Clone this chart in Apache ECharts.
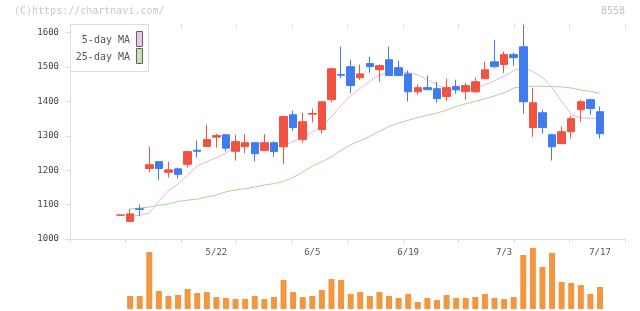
<!DOCTYPE html>
<html>
<head>
<meta charset="utf-8">
<script src="https://cdn.jsdelivr.net/npm/echarts@6/dist/echarts.min.js"></script>
<style>
  html, body { margin: 0; padding: 0; background: #fff; }
  #main { width: 640px; height: 311px; }
</style>
</head>
<body>
<div id="main"></div>
<script>
// 日付 (2025/5/8 - 7/17)
var dates = ['5/8','5/9','5/12','5/13','5/14','5/15','5/16','5/19','5/20','5/21',
  '5/22','5/23','5/26','5/27','5/28','5/29','5/30','6/2','6/3','6/4',
  '6/5','6/6','6/9','6/10','6/11','6/12','6/13','6/16','6/17','6/18',
  '6/19','6/20','6/23','6/24','6/25','6/26','6/27','6/30','7/1','7/2',
  '7/3','7/4','7/7','7/8','7/9','7/10','7/11','7/14','7/15','7/16','7/17'];

var opens  = [1069,1051,1088,1205,1225,1194,1204,1217,1258,1269,1296,1303,1255,1268,1280,1257,1280,1268,1361,1289,
  1363,1318,1405,1478,1501,1469,1510,1492,1521,1498,1480,1428,1440,1437,1414,1443,1428,1428,1466,1515,
  1507,1536,1559,1324,1367,1303,1277,1312,1376,1405,1370];
var closes = [1070,1073,1086,1216,1205,1201,1188,1254,1255,1289,1301,1264,1283,1280,1248,1280,1254,1356,1324,1341,
  1365,1399,1495,1476,1446,1480,1501,1504,1475,1475,1428,1440,1434,1408,1440,1434,1446,1457,1492,1501,
  1536,1527,1399,1396,1324,1268,1312,1350,1399,1379,1306];
var lows   = [1069,1051,1066,1194,1172,1179,1176,1208,1237,1269,1266,1255,1228,1249,1226,1257,1239,1217,1314,1281,
  1339,1307,1397,1468,1423,1463,1483,1457,1475,1475,1399,1420,1434,1396,1402,1422,1405,1425,1466,1498,
  1483,1504,1364,1297,1306,1228,1277,1292,1341,1361,1292];
var highs  = [1070,1087,1100,1268,1225,1225,1207,1257,1286,1332,1306,1303,1303,1305,1280,1305,1284,1358,1373,1367,
  1379,1400,1498,1559,1521,1507,1530,1507,1559,1518,1490,1449,1475,1457,1466,1463,1454,1469,1515,1579,
  1545,1542,1623,1440,1376,1306,1327,1358,1405,1408,1385];

var ma5  = [null,1066,1069,1075,1110,1140,1160,1185,1213,1225,1236,1250,1266,1276,1281,1276,1271,1270,1284,1294,
  1311,1328,1356,1388,1416,1438,1458,1477,1484,1486,1484,1477,1463,1448,1437,1432,1434,1437,1448,1460,
  1473,1490,1499,1487,1470,1440,1400,1362,1352,1351,1350];
var ma25 = [null,1087,1090,1093,1098,1102,1109,1113,1116,1122,1128,1137,1143,1146,1151,1157,1161,1167,1179,1194,
  1212,1225,1239,1258,1274,1286,1298,1313,1327,1337,1345,1353,1360,1366,1375,1385,1393,1400,1408,1416,
  1425,1439,1443,1444,1444,1443,1442,1439,1433,1429,1424];

// 出来高
var volumes = [null,39,39,171,54,39,42,60,48,51,36,33,30,30,39,30,36,87,51,36,
  39,57,90,87,45,51,39,51,39,33,45,21,33,27,42,33,33,36,45,33,
  30,36,162,183,126,168,81,78,72,45,66];

var priceTicks = [1000,1100,1200,1300,1400,1500,1600];

var candles = dates.map(function(d, i) {
  return [opens[i], closes[i], lows[i], highs[i]];
});

var mono = 'DejaVu Sans Mono';
var axisGray = '#dddddd';

var myChart = echarts.init(document.getElementById('main'));
var option = {
  animation: false,
  backgroundColor: '#fff',
  grid: [
    { left: 70, right: 15, top: 24, height: 215 },
    { left: 115.7, right: 35.2, top: 24, height: 215 },
    { left: 115.7, right: 35.2, top: 248, bottom: 2 }
  ],
  xAxis: [
    { gridIndex: 0, type: 'value', min: 0, max: 10, interval: 1,
      axisLine: { show: true, lineStyle: { color: axisGray } },
      axisTick: { show: true, length: 4, lineStyle: { color: axisGray } },
      axisLabel: { show: false }, splitLine: { show: false } },
    { gridIndex: 0, type: 'value', min: 0, max: 10, interval: 1,
      axisLine: { show: false },
      axisTick: { show: true, inside: true, length: 4, lineStyle: { color: axisGray } },
      axisLabel: { show: false }, splitLine: { show: false } },
    { gridIndex: 1, type: 'category', data: dates, boundaryGap: true,
      axisLine: { show: false }, axisTick: { show: false }, splitLine: { show: false },
      axisLabel: {
        interval: function(index) { return index > 0 && index % 10 === 0; },
        margin: 9, fontFamily: mono, fontSize: 9, color: '#555'
      } },
    { gridIndex: 2, type: 'category', data: dates, boundaryGap: true, show: false }
  ],
  yAxis: [
    { gridIndex: 0, type: 'value', min: 1000, max: 1625,
      axisLine: { show: true, lineStyle: { color: axisGray } },
      axisTick: { show: true, length: 5, customValues: priceTicks, lineStyle: { color: axisGray } },
      axisLabel: { customValues: priceTicks, margin: 11, fontFamily: mono, fontSize: 9, color: '#444',
        formatter: function(v) { return String(v); } },
      splitLine: { show: false } },
    { gridIndex: 1, type: 'value', min: 1000, max: 1625, show: false, splitLine: { show: false } },
    { gridIndex: 2, type: 'value', min: 0, max: 183, show: false, splitLine: { show: false } }
  ],
  series: [
    {
      name: '25-day MA', type: 'line', xAxisIndex: 2, yAxisIndex: 1,
      data: ma25, symbol: 'none', lineStyle: { color: '#a9d79a', width: 1 }, z: 2
    },
    {
      name: '5-day MA', type: 'line', xAxisIndex: 2, yAxisIndex: 1,
      data: ma5, symbol: 'none', lineStyle: { color: '#e8b2ea', width: 1 }, z: 2
    },
    {
      name: 'price', type: 'candlestick', xAxisIndex: 2, yAxisIndex: 1,
      data: candles, barWidth: 8,
      itemStyle: {
        color: '#f25340', color0: '#3f7cf0',
        borderColor: '#f25340', borderColor0: '#3f7cf0', borderWidth: 1
      }, z: 3
    },
    {
      name: 'volume', type: 'bar', xAxisIndex: 3, yAxisIndex: 2,
      data: volumes, barWidth: 6, itemStyle: { color: '#f2963f' }
    }
  ],
  graphic: [
    { type: 'text', left: 14, top: 6, style: { text: '(C)https://chartnavi.com/', font: '10px ' + mono, fill: '#c8c8c8' } },
    { type: 'text', right: 15, top: 6, style: { text: '8558', font: '10px ' + mono, fill: '#c0c0c0' } },
    { type: 'rect', z: 10, shape: { x: 70.5, y: 24.5, width: 78, height: 47 },
      style: { fill: '#fff', stroke: '#dddddd', lineWidth: 1 } },
    { type: 'text', z: 11, x: 130, y: 40.5,
      style: { text: '5-day MA', font: '10px ' + mono, fill: '#555', align: 'right', verticalAlign: 'middle' } },
    { type: 'rect', z: 11, shape: { x: 136.5, y: 31.5, width: 6, height: 15 },
      style: { fill: '#f0c2f0', stroke: '#666', lineWidth: 1 } },
    { type: 'text', z: 11, x: 130, y: 57,
      style: { text: '25-day MA', font: '10px ' + mono, fill: '#555', align: 'right', verticalAlign: 'middle' } },
    { type: 'rect', z: 11, shape: { x: 136.5, y: 48.5, width: 6, height: 15 },
      style: { fill: '#c4e2b4', stroke: '#666', lineWidth: 1 } }
  ]
};
myChart.setOption(option);
</script>
</body>
</html>
